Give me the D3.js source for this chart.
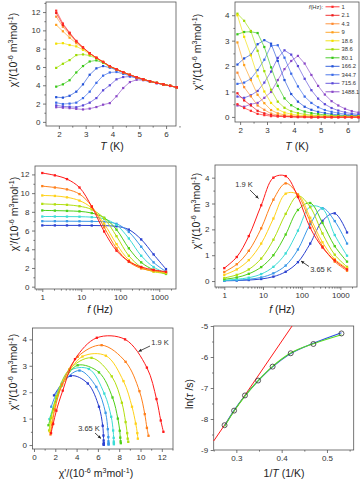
<!DOCTYPE html>
<html><head><meta charset="utf-8">
<script src="https://cdn.jsdelivr.net/npm/d3@7"></script>
<style>
body{margin:0;background:#fff}
svg{display:block;font-family:"Liberation Sans",Arial,sans-serif}
</style>
</head><body>
<svg id="c" width="364" height="484"></svg>
<script>
// ---------------- DATA ----------------
const freqs = [1, 2.1, 4.3, 9, 18.6, 38.6, 80.1, 166.2, 344.7, 715.6, 1488.1];
const freqLabels = ["1","2.1","4.3","9","18.6","38.6","80.1","166.2","344.7","715.6","1488.1"];
const freqColors = ["#ff2a2a","#ee1c1c","#ff8a2e","#ff9f1c","#f2e000","#9ddc00","#38c818","#2252d8","#3a6ae8","#5a48d8","#8a48c8"];

const tempsLow = [1.9, 2.15, 2.4, 2.65, 2.9, 3.15, 3.4, 3.65];
const tempsHigh = [3.9, 4.15, 4.4, 4.65, 4.9, 5.15, 5.4, 5.65, 5.9, 6.15, 6.4];
const tempColors = ["#ff1a1a","#ff7f1a","#ffd21a","#b2df10","#4ed018","#3cdcd6","#3a98e8","#2a40d0"];

// chi' (rows: temperatures, columns: frequencies)
const chiPLow = [
  [12.15, 11.9, 11.5, 10.6, 8.55, 5.9, 3.85, 2.7, 2.1, 1.8, 1.6],
  [10.75, 10.6, 10.4, 9.9, 8.6, 6.35, 4.1, 2.65, 1.95, 1.7, 1.55],
  [9.75, 9.7, 9.55, 9.2, 8.4, 6.75, 4.55, 2.85, 2.0, 1.65, 1.5],
  [8.85, 8.8, 8.75, 8.6, 8.25, 7.3, 5.4, 3.3, 2.1, 1.6, 1.42],
  [8.15, 8.13, 8.1, 8.05, 7.87, 7.37, 6.1, 4.1, 2.6, 1.8, 1.36],
  [7.5, 7.5, 7.49, 7.48, 7.43, 7.25, 6.6, 5.15, 3.3, 2.1, 1.45],
  [7.0, 7.0, 7.0, 6.99, 6.98, 6.93, 6.72, 5.85, 4.27, 2.6, 1.62],
  [6.55, 6.55, 6.55, 6.55, 6.54, 6.52, 6.45, 6.1, 5.05, 3.45, 1.88]
];
const chiPHigh = [
  [6.08, 6.08, 6.08, 6.08, 6.07, 6.06, 6.03, 5.93, 5.4, 4.0, 2.05],
  [5.75, 5.75, 5.75, 5.75, 5.75, 5.74, 5.72, 5.67, 5.45, 4.65, 2.8],
  [5.43, 5.43, 5.43, 5.43, 5.43, 5.42, 5.41, 5.38, 5.25, 4.9, 3.7],
  [5.14, 5.14, 5.14, 5.14, 5.14, 5.14, 5.13, 5.11, 5.04, 4.95, 4.35],
  [4.88, 4.88, 4.88, 4.88, 4.88, 4.88, 4.87, 4.86, 4.82, 4.8, 4.6],
  [4.65, 4.65, 4.65, 4.65, 4.65, 4.65, 4.65, 4.64, 4.62, 4.6, 4.55],
  [4.44, 4.44, 4.44, 4.44, 4.44, 4.44, 4.44, 4.43, 4.42, 4.41, 4.4],
  [4.26, 4.26, 4.26, 4.26, 4.26, 4.26, 4.26, 4.25, 4.25, 4.24, 4.23],
  [4.1, 4.1, 4.1, 4.1, 4.1, 4.1, 4.1, 4.09, 4.09, 4.08, 4.08],
  [3.94, 3.94, 3.94, 3.94, 3.94, 3.94, 3.94, 3.93, 3.93, 3.93, 3.92],
  [3.78, 3.78, 3.78, 3.78, 3.78, 3.78, 3.78, 3.77, 3.77, 3.77, 3.77]
];
// chi'' (rows: temperatures, columns: frequencies)
const chiPPLow = [
  [0.5, 0.93, 1.74, 2.93, 4.0, 4.06, 3.25, 2.06, 1.3, 0.8, 0.45],
  [0.35, 0.65, 1.17, 2.04, 3.15, 3.78, 3.34, 2.3, 1.35, 0.75, 0.4],
  [0.24, 0.45, 0.81, 1.45, 2.42, 3.38, 3.35, 2.45, 1.5, 0.85, 0.5],
  [0.12, 0.24, 0.45, 0.87, 1.6, 2.6, 3.3, 2.86, 1.84, 1.02, 0.55],
  [0.07, 0.14, 0.28, 0.54, 1.0, 1.8, 2.75, 3.02, 2.25, 1.35, 0.75],
  [0.03, 0.07, 0.13, 0.27, 0.55, 1.07, 1.95, 2.88, 2.8, 1.78, 0.98],
  [0.02, 0.03, 0.07, 0.14, 0.3, 0.6, 1.22, 2.2, 2.82, 2.32, 1.45],
  [0.01, 0.02, 0.04, 0.08, 0.17, 0.36, 0.73, 1.45, 2.33, 2.62, 1.88]
];
const chiPPHigh = [
  [0.0, 0.01, 0.01, 0.05, 0.11, 0.22, 0.46, 0.9, 1.7, 2.45, 2.2],
  [-0.01, 0.0, 0.01, 0.03, 0.07, 0.15, 0.31, 0.6, 1.2, 2.0, 2.4],
  [-0.01, 0.0, 0.0, 0.02, 0.05, 0.1, 0.21, 0.4, 0.8, 1.5, 2.1],
  [-0.02, -0.01, 0.0, 0.02, 0.04, 0.07, 0.15, 0.28, 0.55, 1.05, 1.65],
  [-0.02, -0.01, 0.0, 0.01, 0.03, 0.05, 0.11, 0.2, 0.38, 0.72, 1.22],
  [-0.02, -0.01, 0.0, 0.01, 0.02, 0.04, 0.08, 0.15, 0.27, 0.5, 0.88],
  [-0.02, -0.01, 0.0, 0.01, 0.02, 0.03, 0.06, 0.11, 0.2, 0.35, 0.62],
  [-0.02, -0.01, 0.0, 0.0, 0.01, 0.02, 0.05, 0.08, 0.15, 0.25, 0.45],
  [-0.02, -0.01, 0.0, 0.0, 0.01, 0.02, 0.04, 0.06, 0.11, 0.18, 0.32],
  [-0.02, -0.01, 0.0, 0.0, 0.01, 0.02, 0.03, 0.05, 0.08, 0.13, 0.23],
  [-0.02, -0.01, 0.0, 0.0, 0.01, 0.01, 0.03, 0.04, 0.06, 0.1, 0.17]
];

// Arrhenius panel
const invT = [0.274, 0.295, 0.319, 0.348, 0.380, 0.420, 0.470, 0.532];
const lnTau = [-8.20, -7.73, -7.24, -6.76, -6.31, -5.88, -5.58, -5.24];
const fitBlue = [-8.22, -7.72, -7.25, -6.77, -6.32, -5.89, -5.56, -5.22];
const fitGreen = [-8.24, -7.74, -7.26, -6.76, -6.30, -5.87, -5.57, -5.28];
const lineX = [0.25, 0.423];
const lineY = [-8.71, -5.0];

// tick values
const p1XTicks = [2,3,4,5,6], p1YTicks = [0,2,4,6,8,10,12];
const p2XTicks = [2,3,4,5,6], p2YTicks = [0,1,2,3,4];
const p3XTicks = [1,10,100,1000], p3YTicks = [0,2,4,6,8,10,12];
const p4XTicks = [1,10,100,1000], p4YTicks = [0,1,2,3,4];
const p5XTicks = [0,2,4,6,8,10,12], p5YTicks = [0,1,2,3,4];
const p6XTicks = [0.3,0.4,0.5], p6YTicks = [-9,-8,-7,-6,-5];

// ---------------- DRAW ----------------
const svg = d3.select("#c");
const INK = "#333";

function makeAxes(g, x, y, o) {
  const [x0, x1] = x.range(), [y0, y1] = y.range();
  const fmt = o.xf || (d => String(d));
  const fmtY = o.yf || (d => String(d));
  const ax = g.append("g").attr("transform", `translate(0,${y0})`)
    .call(d3.axisBottom(x).tickValues(o.xt).tickFormat(fmt).tickSize(3).tickPadding(2.5));
  const axm = g.append("g").attr("transform", `translate(0,${y0})`)
    .call(d3.axisBottom(x).tickValues(o.xm).tickFormat(() => "").tickSize(1.6));
  const ay = g.append("g").attr("transform", `translate(${x0},0)`)
    .call(d3.axisLeft(y).tickValues(o.yt).tickFormat(fmtY).tickSize(3).tickPadding(2.5));
  const aym = g.append("g").attr("transform", `translate(${x0},0)`)
    .call(d3.axisLeft(y).tickValues(o.ym).tickFormat(() => "").tickSize(1.6));
  [ax, axm, ay, aym].forEach(a => {
    a.select(".domain").remove();
    a.selectAll("line").attr("stroke", "#555").attr("stroke-width", 0.8);
    a.selectAll("text").attr("font-size", 8).attr("fill", INK).attr("font-family", "Liberation Sans, Arial, sans-serif");
  });
  g.append("rect").attr("x", x0).attr("y", y1).attr("width", x1 - x0).attr("height", y0 - y1)
    .attr("fill", "none").attr("stroke", "#555").attr("stroke-width", 0.8);
}

function richLabel(g, x, y, rot, parts, size) {
  const t = g.append("text").attr("transform", `translate(${x},${y}) rotate(${rot})`)
    .attr("text-anchor", "middle").attr("font-size", size).attr("fill", "#222");
  let up = false;
  parts.forEach(p => {
    const ts = t.append("tspan").text(p.t);
    if (p.sup) { ts.attr("font-size", size * 0.68).attr("dy", up ? 0 : -size * 0.38); up = true; }
    else if (up) { ts.attr("dy", size * 0.38); up = false; }
    if (p.it) ts.attr("font-style", "italic");
  });
}
const chi1Parts = [{t:"χ'/(10"},{t:"-6",sup:1},{t:" m"},{t:"3",sup:1},{t:"mol"},{t:"-1",sup:1},{t:")"}];
const chi2Parts = [{t:"χ''/(10"},{t:"-6",sup:1},{t:" m"},{t:"3",sup:1},{t:"mol"},{t:"-1",sup:1},{t:")"}];

function square(g, pts, x, y, color, s) {
  g.selectAll(null).data(pts).enter().append("rect")
    .attr("x", d => x(d[0]) - s / 2).attr("y", d => y(d[1]) - s / 2)
    .attr("width", s).attr("height", s).attr("fill", color);
}

function range(a, b, s) { const r = []; for (let v = a; v <= b + 1e-9; v += s) r.push(+v.toFixed(4)); return r; }
function logMinor(a, b) { const r = []; for (let e = -1; e < 4; e++) for (let k = 2; k <= 9; k++) { const v = k * Math.pow(10, e); if (v >= a && v <= b) r.push(v); } return r; }

const allTemps = tempsLow.concat(tempsHigh);
const chiPAll = chiPLow.concat(chiPHigh);
const chiPPAll = chiPPLow.concat(chiPPHigh);

// ----- Panel 1: chi' vs T -----
{
  const g = svg.append("g");
  const x = d3.scaleLinear().domain([1.52, 6.37]).range([46, 176]);
  const y = d3.scaleLinear().domain([-0.45, 13.1]).range([126, 2]);
  makeAxes(g, x, y, {xt: p1XTicks, xm: range(1.5, 6.5, 0.5).filter(v => v % 1 !== 0 && v > 1.52), yt: p1YTicks, ym: range(1, 13, 2)});
  const line = d3.line().x(d => x(d[0])).y(d => y(d[1]));
  for (let j = freqs.length - 1; j >= 0; j--) {
    const pts = allTemps.map((T, i) => [T, chiPAll[i][j]]);
    g.append("path").attr("d", line(pts)).attr("fill", "none").attr("stroke", freqColors[j]).attr("stroke-width", 0.8).attr("opacity", 0.8);
    square(g, pts, x, y, freqColors[j], 2.2);
  }
  richLabel(g, 17, 50, -90, chi1Parts, 10.5);
  richLabel(g, 112, 150, 0, [{t:"T",it:1},{t:" (K)"}], 10.5);
}

// ----- Panel 2: chi'' vs T -----
{
  const g = svg.append("g");
  const x = d3.scaleLinear().domain([1.81, 6.42]).range([235, 359]);
  const y = d3.scaleLinear().domain([-0.2, 4.52]).range([122, 2]);
  makeAxes(g, x, y, {xt: p2XTicks, xm: [2.5,3.5,4.5,5.5], yt: p2YTicks, ym: [0.5,1.5,2.5,3.5]});
  const line = d3.line().x(d => x(d[0])).y(d => y(d[1]));
  for (let j = freqs.length - 1; j >= 0; j--) {
    const pts = allTemps.map((T, i) => [T, chiPPAll[i][j]]);
    g.append("path").attr("d", line(pts)).attr("fill", "none").attr("stroke", freqColors[j]).attr("stroke-width", 0.8).attr("opacity", 0.8);
    square(g, pts, x, y, freqColors[j], 2.2);
  }
  // legend
  const lg = g.append("g");
  const ly = i => 6.8 + i * 8.5;
  lg.append("text").attr("x", 323).attr("y", ly(0)).attr("dy", "0.35em").attr("text-anchor", "end")
    .attr("font-size", 5.8).attr("fill", INK)
    .call(t => { t.append("tspan").attr("font-style", "italic").text("f"); t.append("tspan").text("(Hz):"); });
  freqLabels.forEach((lab, i) => {
    lg.append("line").attr("x1", 325.5).attr("x2", 339.5).attr("y1", ly(i)).attr("y2", ly(i))
      .attr("stroke", freqColors[i]).attr("stroke-width", 0.9);
    lg.append("rect").attr("x", 331.4).attr("y", ly(i) - 1.1).attr("width", 2.2).attr("height", 2.2).attr("fill", freqColors[i]);
    lg.append("text").attr("x", 341.5).attr("y", ly(i)).attr("dy", "0.35em").attr("font-size", 5.8).attr("fill", INK).text(lab);
  });
  richLabel(g, 201, 52, -90, chi2Parts, 10.5);
  richLabel(g, 297, 150, 0, [{t:"T",it:1},{t:" (K)"}], 10.5);
}

// ----- Panel 3: chi' vs f -----
{
  const g = svg.append("g");
  const x = d3.scaleLog().domain([Math.pow(10, -0.187), Math.pow(10, 3.43)]).range([35, 176]);
  const y = d3.scaleLinear().domain([-0.25, 12.9]).range([289, 166]);
  makeAxes(g, x, y, {xt: p3XTicks, xm: logMinor(0.66, 2600), yt: p3YTicks, ym: range(1, 11, 2)});
  const line = d3.line().curve(d3.curveCatmullRom.alpha(0.5)).x(d => x(d[0])).y(d => y(d[1]));
  for (let i = tempsLow.length - 1; i >= 0; i--) {
    const pts = freqs.map((f, j) => [f, chiPLow[i][j]]);
    g.append("path").attr("d", line(pts)).attr("fill", "none").attr("stroke", tempColors[i]).attr("stroke-width", 1);
    square(g, pts, x, y, tempColors[i], 2.3);
  }
  richLabel(g, 17.5, 214, -90, chi1Parts, 10.5);
  richLabel(g, 100, 313, 0, [{t:"f",it:1},{t:" (Hz)"}], 10.5);
}

// ----- Panel 4: chi'' vs f -----
{
  const g = svg.append("g");
  const x = d3.scaleLog().domain([Math.pow(10, -0.24), Math.pow(10, 3.43)]).range([215, 357]);
  const y = d3.scaleLinear().domain([-0.23, 4.49]).range([287, 165]);
  makeAxes(g, x, y, {xt: p4XTicks, xm: logMinor(0.58, 2600), yt: p4YTicks, ym: [0.5,1.5,2.5,3.5]});
  const line = d3.line().curve(d3.curveCatmullRom.alpha(0.5)).x(d => x(d[0])).y(d => y(d[1]));
  for (let i = tempsLow.length - 1; i >= 0; i--) {
    const pts = freqs.map((f, j) => [f, chiPPLow[i][j]]);
    g.append("path").attr("d", line(pts)).attr("fill", "none").attr("stroke", tempColors[i]).attr("stroke-width", 1);
    square(g, pts, x, y, tempColors[i], 2.3);
  }
  // annotations
  g.append("text").attr("x", 244).attr("y", 187).attr("text-anchor", "middle").attr("font-size", 7.5).attr("fill", INK).text("1.9 K");
  arrow(g, 250, 190, 258.5, 198.5);
  g.append("text").attr("x", 321).attr("y", 272).attr("text-anchor", "middle").attr("font-size", 7.5).attr("fill", INK).text("3.65 K");
  arrow(g, 309, 266.5, 301, 261);
  richLabel(g, 200, 211, -90, chi2Parts, 10.5);
  richLabel(g, 282, 313, 0, [{t:"f",it:1},{t:" (Hz)"}], 10.5);
}

function arrow(g, x1, y1, x2, y2) {
  g.append("line").attr("x1", x1).attr("y1", y1).attr("x2", x2).attr("y2", y2).attr("stroke", "#222").attr("stroke-width", 0.8);
  const a = Math.atan2(y2 - y1, x2 - x1), L = 3.2, W = 1.5;
  const bx = x2 - L * Math.cos(a), by = y2 - L * Math.sin(a);
  const px = -Math.sin(a) * W, py = Math.cos(a) * W;
  g.append("path").attr("d", `M${x2},${y2}L${bx + px},${by + py}L${bx - px},${by - py}Z`).attr("fill", "#222");
}

// ----- Panel 5: Cole-Cole -----
{
  const g = svg.append("g");
  const x = d3.scaleLinear().domain([-0.14, 13.05]).range([32.5, 173]);
  const y = d3.scaleLinear().domain([-0.15, 4.43]).range([449, 328]);
  makeAxes(g, x, y, {xt: p5XTicks, xm: range(1, 13, 2), yt: p5YTicks, ym: [0.5,1.5,2.5,3.5]});
  const line = d3.line().curve(d3.curveCatmullRom.alpha(0.5)).x(d => x(d[0])).y(d => y(d[1]));
  for (let i = tempsLow.length - 1; i >= 0; i--) {
    const pts = freqs.map((f, j) => [chiPLow[i][j], chiPPLow[i][j]]);
    g.append("path").attr("d", line(pts)).attr("fill", "none").attr("stroke", tempColors[i]).attr("stroke-width", 1);
    square(g, pts, x, y, tempColors[i], 2.3);
  }
  g.append("text").attr("x", 160).attr("y", 344.5).attr("text-anchor", "middle").attr("font-size", 7.5).attr("fill", INK).text("1.9 K");
  arrow(g, 150, 346, 138.5, 351.5);
  g.append("text").attr("x", 89).attr("y", 430.5).attr("text-anchor", "middle").attr("font-size", 7.5).attr("fill", INK).text("3.65 K");
  arrow(g, 95, 433, 101, 438.5);
  richLabel(g, 17, 372, -90, chi2Parts, 10.5);
  richLabel(g, 96, 477, 0, chi1Parts, 10.5);
}

// ----- Panel 6: Arrhenius -----
{
  const g = svg.append("g");
  const x = d3.scaleLinear().domain([0.25, 0.559]).range([213.7, 353.7]);
  const y = d3.scaleLinear().domain([-9, -5]).range([450, 326]);
  makeAxes(g, x, y, {xt: p6XTicks, xm: [0.25, 0.35, 0.45, 0.55], yt: p6YTicks, ym: [-8.5,-7.5,-6.5,-5.5],
    xf: d => d.toFixed(1), yf: d => String(d)});
  const lin = d3.line().x(d => x(d[0])).y(d => y(d[1]));
  g.append("path").attr("d", lin(lineX.map((v, i) => [v, lineY[i]]))).attr("stroke", "#ff1a1a").attr("stroke-width", 1).attr("fill", "none");
  const cr = d3.line().curve(d3.curveCatmullRom.alpha(0.5)).x(d => x(d[0])).y(d => y(d[1]));
  g.append("path").attr("d", cr(invT.map((v, i) => [v, fitBlue[i]]))).attr("stroke", "#2a50e0").attr("stroke-width", 1.1).attr("fill", "none");
  g.append("path").attr("d", cr(invT.map((v, i) => [v, fitGreen[i]]))).attr("stroke", "#55dd22").attr("stroke-width", 1.1).attr("fill", "none");
  g.selectAll(null).data(invT.map((v, i) => [v, lnTau[i]])).enter().append("circle")
    .attr("cx", d => x(d[0])).attr("cy", d => y(d[1])).attr("r", 2.5)
    .attr("fill", "none").attr("stroke", "#333").attr("stroke-width", 0.8);
  richLabel(g, 193, 394, -90, [{t:"ln("},{t:"τ",it:1},{t:" /s)"}], 10.5);
  richLabel(g, 284, 477, 0, [{t:"1/"},{t:"T",it:1},{t:" (1/K)"}], 10.5);
}
</script>
</body></html>
